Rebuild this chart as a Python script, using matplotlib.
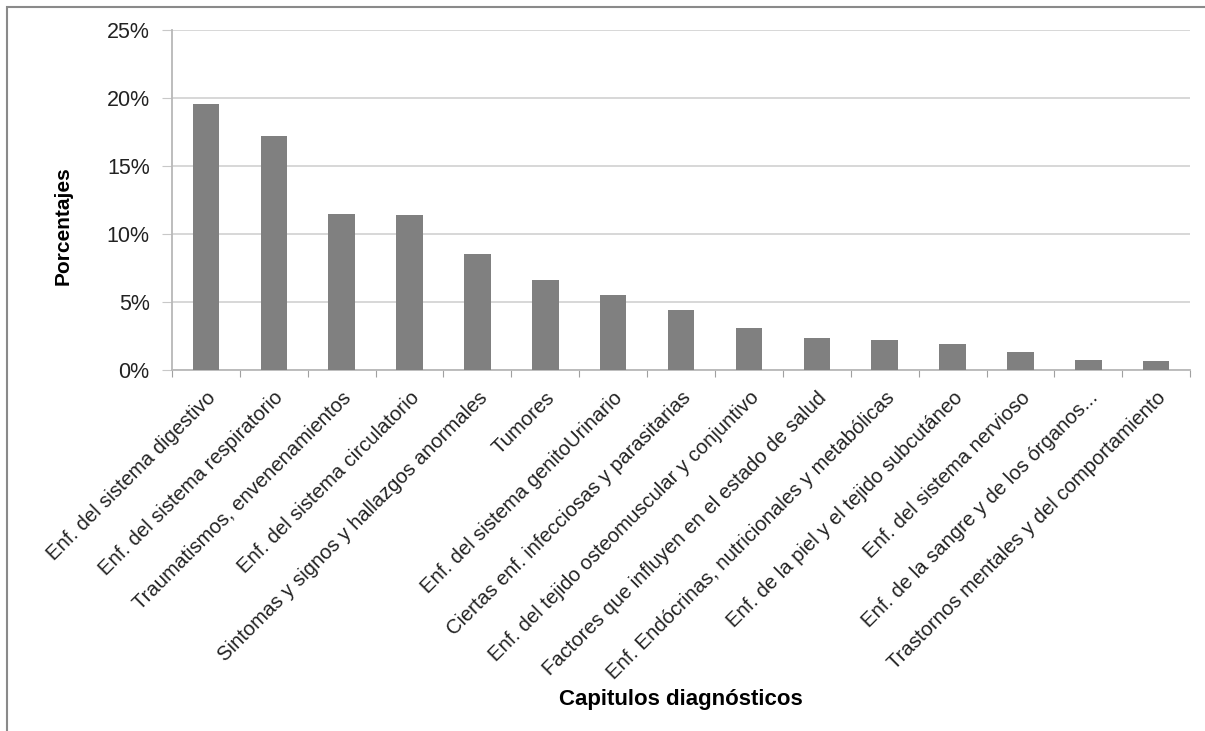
import matplotlib
matplotlib.use("Agg")
import matplotlib.pyplot as plt
from matplotlib.patches import Rectangle
from matplotlib.ticker import FuncFormatter, FixedLocator
import numpy as np

plt.rcParams["font.family"] = ["Liberation Sans", "DejaVu Sans"]

capitulos = [
    "Enf. del sistema digestivo",
    "Enf. del sistema respiratorio",
    "Traumatismos, envenenamientos",
    "Enf. del sistema circulatorio",
    "Sintomas y signos y hallazgos anormales",
    "Tumores",
    "Enf. del sistema genitoUrinario",
    "Ciertas enf. infecciosas y parasitarias",
    "Enf. del tejido osteomuscular y conjuntivo",
    "Factores que influyen en el estado de salud",
    "Enf. Endócrinas, nutricionales y metabólicas",
    "Enf. de la piel y el tejido subcutáneo",
    "Enf. del sistema nervioso",
    "Enf. de la sangre y de los órganos...",
    "Trastornos mentales y del comportamiento",
]
porcentajes = [19.55, 17.2, 11.5, 11.4, 8.55, 6.6, 5.5, 4.4, 3.1,
               2.35, 2.2, 1.95, 1.3, 0.75, 0.7]
yticks = [0, 5, 10, 15, 20, 25]

fig = plt.figure(figsize=(12.05, 7.31), dpi=100)
ax = fig.add_axes([0.1427, 0.4938, 0.845, 0.4652])

x = np.arange(len(capitulos))
ax.bar(x, porcentajes, width=0.39, color="#808080", zorder=3)

ax.set_xlim(-0.5, len(capitulos) - 0.5)
ax.set_ylim(0, 25)
ax.set_yticks(yticks)
ax.yaxis.set_major_formatter(FuncFormatter(lambda v, _: f"{v:.0f}%"))
ax.grid(axis="y", color="#d4d4d4", lw=1.3, zorder=0)

# ticks between categories, labels centred under the bars
ax.xaxis.set_major_locator(FixedLocator(np.arange(len(capitulos) + 1) - 0.5))
ax.xaxis.set_major_formatter(FuncFormatter(lambda v, _: ""))
ax.set_xticks(x, minor=True)
ax.set_xticklabels(capitulos, minor=True, rotation=45, ha="right",
                   rotation_mode="anchor", fontsize=14.6, color="#222222")
ax.tick_params(axis="x", which="minor", length=0, pad=13)
ax.tick_params(axis="x", which="major", length=5, color="#a0a0a0", direction="out")
ax.tick_params(axis="y", length=7, color="#c8c8c8", labelsize=15.5,
               labelcolor="#222222", pad=9)

for side in ("top", "right"):
    ax.spines[side].set_visible(False)
for side in ("left", "bottom"):
    ax.spines[side].set_color("#b8b8b8")
    ax.spines[side].set_linewidth(1.3)

fig.text(63 / 1205, 1 - 226 / 731, "Porcentajes", fontsize=15,
         fontweight="bold", rotation=90, ha="center", va="center")
fig.text(681 / 1205, 1 - 700 / 731, "Capitulos diagnósticos", fontsize=16,
         fontweight="bold", ha="center", va="center")

# outer frame of the chart area
fig.patches.append(Rectangle((7 / 1205, -0.05), 1.1, 1 - 7 / 731 + 0.05,
                             transform=fig.transFigure, fill=False,
                             edgecolor="#8a8a8a", lw=1.5))

fig.savefig("out.png", dpi=100)
